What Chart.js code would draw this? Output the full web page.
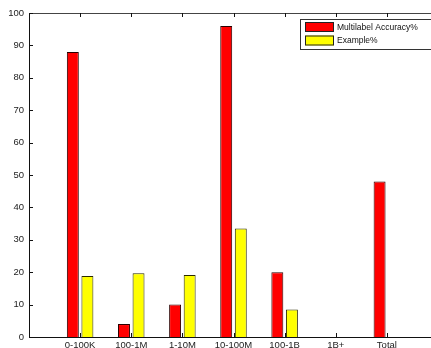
<!DOCTYPE html>
<html lang="en">
<head>
    <meta charset="UTF-8">
    <title>Multilabel Accuracy by Bucket</title>
    <script src="https://cdn.jsdelivr.net/npm/chart.js"></script>
    <style>
        html, body {
            margin: 0;
            padding: 0;
            background: #fff;
            overflow: hidden;
        }
        .chart-box {
            position: relative;
            width: 441px;
            height: 348px;
        }
    </style>
</head>
<body>
    <div class="chart-box"><canvas id="chart"></canvas></div>

    <script>
        const categories = ['0-100K', '100-1M', '1-10M', '10-100M', '100-1B', '1B+', 'Total'];
        const accuracy = [88, 4, 10, 96, 20, 0, 48];
        const examples = [18.8, 19.7, 19.1, 33.5, 8.5, 0, 0];
        const seriesNames = ['Multilabel Accuracy%', 'Example%'];
        const yMin = 0, yMax = 100, yStep = 10;

        const tickFont = { family: 'Liberation Sans, Arial, sans-serif', size: 9.5 };

        // matlab style: ticks pointing inward, top box line
        const innerTicks = {
            id: 'innerTicks',
            afterDatasetsDraw(chart) {
                const { ctx, chartArea: a, scales: { x, y } } = chart;
                ctx.save();
                ctx.lineWidth = 1;
                ctx.strokeStyle = '#444';
                ctx.beginPath();
                ctx.moveTo(a.left, Math.round(a.top) + 0.5);
                ctx.lineTo(a.right, Math.round(a.top) + 0.5);
                ctx.stroke();
                ctx.strokeStyle = '#111';
                ctx.beginPath();
                y.ticks.forEach(t => {
                    const py = Math.round(y.getPixelForValue(t.value)) + 0.5;
                    ctx.moveTo(a.left, py);
                    ctx.lineTo(a.left + 4, py);
                });
                categories.forEach((c, i) => {
                    const px = Math.round(x.getPixelForValue(i + 1)) + 0.5;
                    ctx.moveTo(px, a.bottom);
                    ctx.lineTo(px, a.bottom - 4);
                    ctx.moveTo(px, a.top);
                    ctx.lineTo(px, a.top + 4);
                });
                ctx.stroke();
                ctx.restore();
            }
        };

        // legend box drawn inside the plot, top right
        const boxLegend = {
            id: 'boxLegend',
            afterDraw(chart) {
                const { ctx, chartArea: a } = chart;
                const bx = a.right - 138, by = a.top + 6, bw = 134, bh = 30;
                ctx.save();
                ctx.fillStyle = '#fff';
                ctx.fillRect(bx, by, bw, bh);
                ctx.strokeStyle = '#333';
                ctx.lineWidth = 1;
                ctx.strokeRect(bx + 0.5, by + 0.5, bw, bh);
                ctx.font = '8.5px Liberation Sans, Arial, sans-serif';
                ctx.textBaseline = 'middle';
                chart.data.datasets.forEach((ds, i) => {
                    const sy = by + 3 + i * 13.5;
                    ctx.fillStyle = ds.backgroundColor;
                    ctx.fillRect(bx + 5, sy, 29, 10);
                    ctx.strokeStyle = '#222';
                    ctx.strokeRect(bx + 5.5, sy + 0.5, 28, 9);
                    ctx.fillStyle = '#111';
                    ctx.fillText(ds.label, bx + 37, sy + 5.5);
                });
                ctx.restore();
            }
        };

        new Chart(document.getElementById('chart'), {
            type: 'bar',
            data: {
                datasets: [{
                    label: seriesNames[0],
                    data: accuracy.map((v, i) => ({ x: i + 1, y: v })),
                    backgroundColor: '#ff0000',
                    borderColor: '#2a0000',
                    borderWidth: 1
                }, {
                    label: seriesNames[1],
                    data: examples.map((v, i) => ({ x: i + 1, y: v })),
                    backgroundColor: '#ffff00',
                    borderColor: '#2a2a00',
                    borderWidth: 1
                }]
            },
            options: {
                responsive: true,
                maintainAspectRatio: false,
                animation: false,
                categoryPercentage: 0.57,
                barPercentage: 0.82,
                layout: { padding: { top: 13, right: 1, left: 0, bottom: 0 } },
                plugins: {
                    legend: { display: false },
                    tooltip: { enabled: false }
                },
                scales: {
                    x: {
                        type: 'linear',
                        offset: false,
                        min: 0,
                        max: categories.length + 1,
                        grid: { display: false, drawTicks: false },
                        border: { color: '#111', width: 1 },
                        ticks: {
                            stepSize: 1,
                            autoSkip: false,
                            maxRotation: 0,
                            padding: 3,
                            color: '#222',
                            font: tickFont,
                            callback: v => categories[v - 1] || ''
                        },
                        afterFit: s => { s.height = 11; }
                    },
                    y: {
                        min: yMin,
                        max: yMax,
                        grid: { display: false, drawTicks: false },
                        border: { color: '#111', width: 1 },
                        ticks: {
                            stepSize: yStep,
                            padding: 5,
                            color: '#222',
                            font: tickFont
                        },
                        afterFit: s => { s.width = 29; }
                    }
                }
            },
            plugins: [innerTicks, boxLegend]
        });
    </script>
</body>
</html>
